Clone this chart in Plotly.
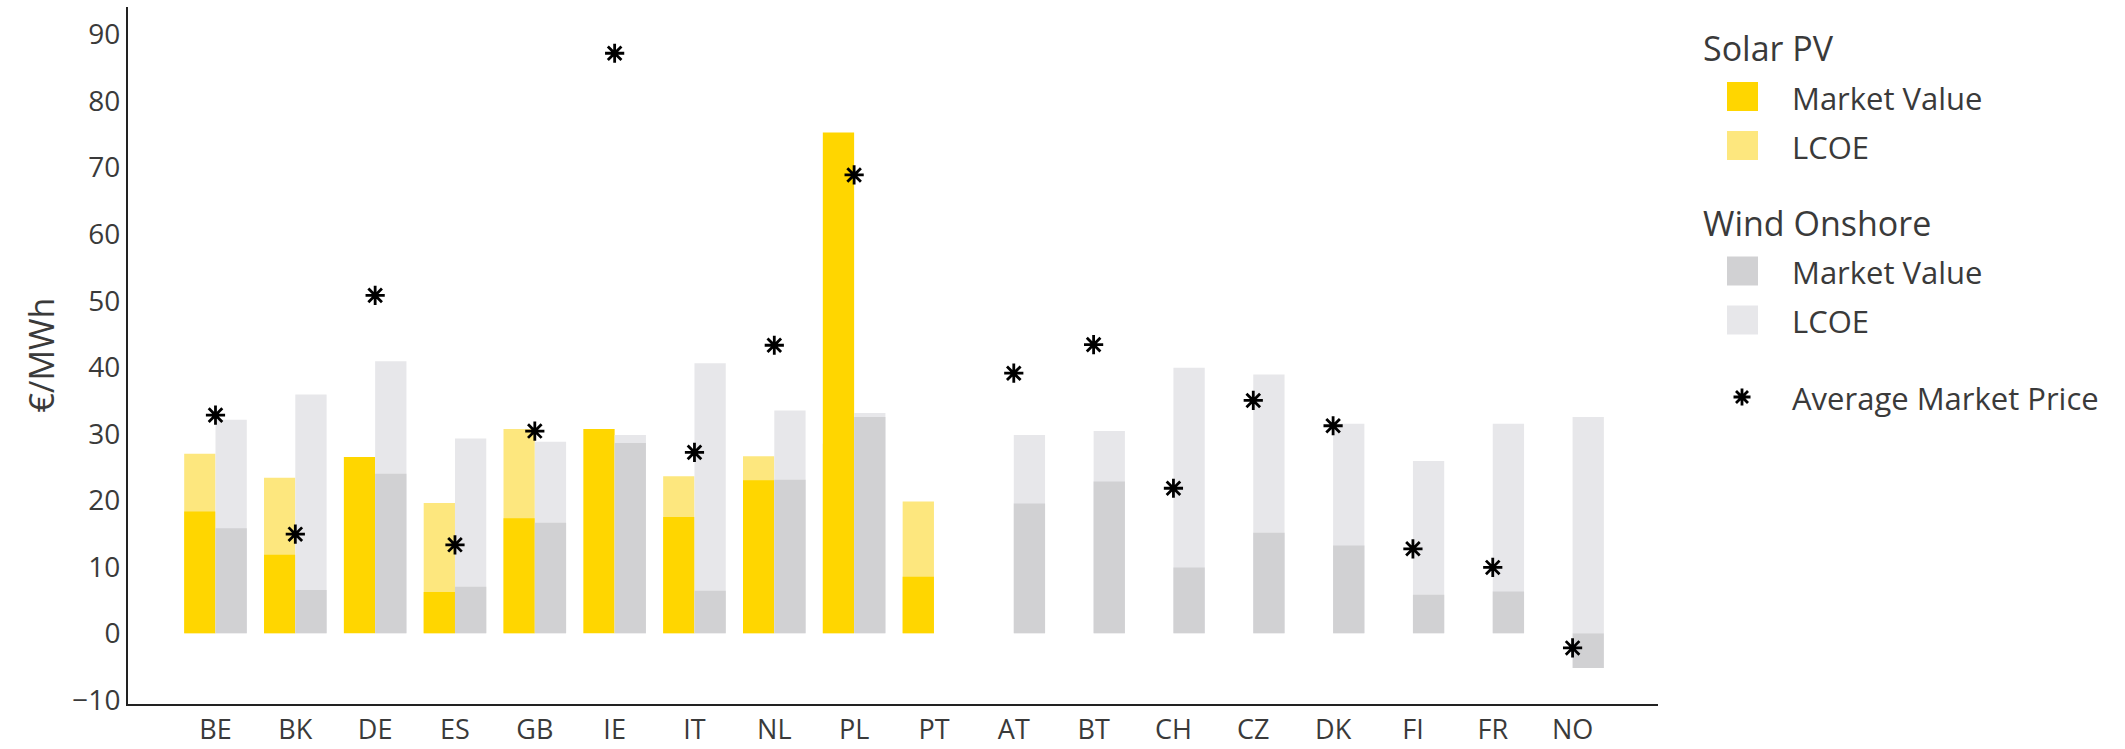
import plotly.graph_objects as go

# Countries / bidding zones on the x axis
countries = ["BE", "BK", "DE", "ES", "GB", "IE", "IT", "NL", "PL", "PT",
             "AT", "BT", "CH", "CZ", "DK", "FI", "FR", "NO"]

# Solar PV (€/MWh)
solar_market_value = [18.3, 11.8, 26.5, 6.2, 17.3, 30.7, 17.5, 23.0, 75.3, 8.5,
                      None, None, None, None, None, None, None, None]
solar_lcoe = [27.0, 23.4, None, 19.6, 30.7, None, 23.6, 26.6, 28.5, 19.8,
              None, None, None, None, None, None, None, None]

# Wind onshore (€/MWh)
wind_market_value = [15.8, 6.5, 24.0, 7.0, 16.6, 28.6, 6.4, 23.1, 32.5, None,
                     19.5, 22.8, 9.9, 15.1, 13.2, 5.8, 6.3, -5.2]
wind_lcoe = [32.1, 35.9, 40.9, 29.3, 28.8, 29.8, 40.6, 33.5, 33.1, None,
             29.8, 30.4, 39.9, 38.9, 31.5, 25.9, 31.5, 32.5]

# Average market price (€/MWh)
avg_market_price = [32.8, 14.9, 50.8, 13.3, 30.4, 87.2, 27.2, 43.3, 68.9, None,
                    39.1, 43.4, 21.8, 35.0, 31.2, 12.7, 9.9, -2.2]

y_ticks = [-10, 0, 10, 20, 30, 40, 50, 60, 70, 80, 90]

GOLD = "#FFD600"
GOLD_LIGHT = "#FDE77E"
GREY = "#D1D1D3"
GREY_LIGHT = "#E7E7EA"
TEXT = "#3a3a3a"
FONT = "Open Sans"

BAR_W = 0.392

fig = go.Figure()

# LCOE bars sit behind, market value bars in front
fig.add_trace(go.Bar(x=countries, y=solar_lcoe, width=BAR_W, offset=-BAR_W,
                     marker=dict(color=GOLD_LIGHT, line=dict(width=0)),
                     name="LCOE", showlegend=False))
fig.add_trace(go.Bar(x=countries, y=solar_market_value, width=BAR_W, offset=-BAR_W,
                     marker=dict(color=GOLD, line=dict(width=0)),
                     name="Market Value", showlegend=False))
fig.add_trace(go.Bar(x=countries, y=wind_lcoe, width=BAR_W, offset=0,
                     marker=dict(color=GREY_LIGHT, line=dict(width=0)),
                     name="LCOE", showlegend=False))
fig.add_trace(go.Bar(x=countries, y=wind_market_value, width=BAR_W, offset=0,
                     marker=dict(color=GREY, line=dict(width=0)),
                     name="Market Value", showlegend=False))
fig.add_trace(go.Scatter(x=countries, y=avg_market_price, mode="markers",
                         marker=dict(symbol="asterisk-open", size=16, color="black",
                                     line=dict(color="black", width=2.8)),
                         name="Average Market Price", showlegend=False,
                         cliponaxis=False))

# Plot-area edges in pixels, used to place the hand-built legend
L, R, T, B = 128, 1658, 7, 704
W, H = R - L, B - T


def px_x(p):
    return (p - L) / W


def px_y(p):
    return (B - p) / H


shapes = []
annotations = []

# Legend: group titles, swatches and item labels
legend_groups = [
    ("Solar PV", 48, [(GOLD, "Market Value", 96.5), (GOLD_LIGHT, "LCOE", 145.5)]),
    ("Wind Onshore", 223, [(GREY, "Market Value", 271), (GREY_LIGHT, "LCOE", 320)]),
]
for title, ty, items in legend_groups:
    annotations.append(dict(text=title, xref="paper", yref="paper",
                            x=px_x(1701), y=px_y(ty), xanchor="left", yanchor="middle",
                            showarrow=False, font=dict(family=FONT, size=34, color=TEXT)))
    for color, label, cy in items:
        shapes.append(dict(type="rect", xref="paper", yref="paper",
                           x0=px_x(1727), x1=px_x(1758), y0=px_y(cy + 14.5), y1=px_y(cy - 14.5),
                           fillcolor=color, line=dict(width=0), layer="above"))
        annotations.append(dict(text=label, xref="paper", yref="paper",
                                x=px_x(1790), y=px_y(cy + 1), xanchor="left", yanchor="middle",
                                showarrow=False, font=dict(family=FONT, size=31, color=TEXT)))

# Asterisk glyph for the average-price legend entry (8 strokes round a centre)
cx, cy = 1742, 397
long_arm, diag_arm = 8.5, 6.0
segments = [
    ((cx, cy - long_arm), (cx, cy + long_arm)),
    ((cx - long_arm, cy), (cx + long_arm, cy)),
    ((cx - diag_arm, cy - diag_arm), (cx + diag_arm, cy + diag_arm)),
    ((cx - diag_arm, cy + diag_arm), (cx + diag_arm, cy - diag_arm)),
]
path = " ".join(
    f"M{px_x(a[0]):.5f},{px_y(a[1]):.5f} L{px_x(b[0]):.5f},{px_y(b[1]):.5f}"
    for a, b in segments
)
shapes.append(dict(type="path", xref="paper", yref="paper", path=path,
                   line=dict(color="black", width=2.8), layer="above"))

annotations.append(dict(text="Average Market Price", xref="paper", yref="paper",
                        x=px_x(1790), y=px_y(398), xanchor="left", yanchor="middle",
                        showarrow=False, font=dict(family=FONT, size=31, color=TEXT)))

# Y axis title
annotations.append(dict(text="€/MWh", xref="paper", yref="paper",
                        x=px_x(40), y=0.5, xanchor="center", yanchor="middle",
                        textangle=-90, showarrow=False,
                        font=dict(family=FONT, size=34, color=TEXT)))

fig.update_layout(
    width=2125, height=749, autosize=False,
    margin=dict(l=L, r=2125 - R, t=T, b=749 - B, pad=0, autoexpand=False),
    paper_bgcolor="white", plot_bgcolor="white",
    barmode="overlay",
    font=dict(family=FONT, size=28, color=TEXT),
    shapes=shapes, annotations=annotations,
    xaxis=dict(type="category", categoryorder="array", categoryarray=countries,
               range=[-1.096, 18.07], showgrid=False, zeroline=False,
               showline=True, linecolor="#222", linewidth=2, ticks="",
               ticklabelstandoff=1, automargin=False,
               tickfont=dict(family=FONT, size=27, color=TEXT)),
    yaxis=dict(range=[-10.63, 94.15], tickvals=y_ticks, showgrid=False,
               zeroline=False, showline=True, linecolor="#222", linewidth=2,
               ticks="", automargin=False,
               tickfont=dict(family=FONT, size=28, color=TEXT)),
    showlegend=False,
)

fig.write_html("out.html")
